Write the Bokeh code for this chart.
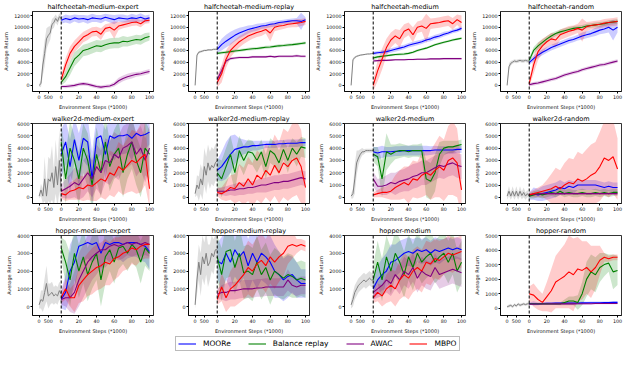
import numpy as np
from bokeh.plotting import figure
from bokeh.layouts import gridplot, column
from bokeh.models import Span, FixedTicker, CustomJSTickFormatter, Legend, LegendItem, Title
from bokeh.embed import file_html
from bokeh.resources import INLINE

# ---------------- data ----------------
online_steps = [0, 5, 10, 15, 20, 25, 30, 35, 40, 45, 50, 55, 60, 65, 70, 75, 80, 85, 90, 95, 100]
offline_steps = [0, 100, 200, 300, 400, 500, 600, 700, 800, 900, 1000, 1100, 1200]
offline_tick_labels = [0, 500]
series_names = ["MOORe", "Balance replay", "AWAC", "MBPO"]

# halfcheetah-medium-expert
hcme_off = [0, 300, 3500, 5500, 8000, 8600, 9000, 10500, 10800, 11500, 11000, 11800, 11500]
hcme_off_sd = [200, 600, 1800, 2200, 1800, 1500, 1200, 900, 900, 700, 700, 600, 500]
hcme_moore = [11200, 11500, 11300, 11600, 11400, 11500, 11300, 11600, 11500, 11400, 11700, 11500, 11300, 11600, 11500, 11400, 11600, 11500, 11700, 11400, 11600]
hcme_moore_sd = [600, 700, 700, 600, 700, 600, 700, 700, 600, 700, 600, 700, 800, 600, 700, 600, 700, 600, 700, 600, 600]
hcme_bal = [500, 1500, 3000, 4500, 5200, 6000, 6200, 6500, 6800, 6700, 7000, 7200, 7300, 7300, 7600, 7500, 7700, 7900, 7800, 8200, 8400]
hcme_bal_sd = [500, 900, 1200, 1200, 1100, 1000, 1000, 1000, 1000, 1000, 900, 900, 900, 900, 900, 800, 800, 800, 800, 800, 700]
hcme_awac = [-200, -200, -100, 0, 200, 300, 200, 0, -200, -300, -200, -100, 200, 800, 1200, 1500, 1700, 1900, 2000, 2200, 2400]
hcme_awac_sd = [200, 300, 300, 300, 300, 300, 300, 300, 300, 300, 300, 300, 400, 500, 500, 500, 500, 400, 400, 400, 400]
hcme_mbpo = [1000, 3500, 5500, 6700, 7500, 8300, 8700, 9200, 9300, 8800, 9800, 10000, 9500, 10200, 10400, 10600, 10800, 10900, 10600, 11100, 11200]
hcme_mbpo_sd = [800, 1200, 1200, 1000, 1000, 900, 900, 800, 800, 1000, 700, 700, 1500, 700, 600, 600, 600, 600, 600, 500, 500]

# halfcheetah-medium-replay
hcmr_off = [0, 5200, 5700, 5800, 5900, 6000, 6000, 6100, 6100, 6100, 6200, 6200, 6200]
hcmr_off_sd = [100, 300, 200, 200, 200, 150, 150, 150, 150, 150, 150, 150, 150]
hcmr_moore = [6200, 7000, 7600, 8100, 8600, 9000, 9300, 9600, 9800, 10000, 10200, 10300, 10500, 10600, 10800, 10900, 11000, 11100, 11100, 11000, 11300]
hcmr_moore_sd = [600, 1000, 1100, 1100, 1000, 900, 800, 700, 600, 600, 500, 500, 500, 500, 400, 400, 400, 400, 500, 1500, 400]
hcmr_bal = [5500, 5600, 5700, 5800, 5900, 6000, 6100, 6200, 6300, 6350, 6450, 6550, 6600, 6700, 6800, 6850, 6950, 7000, 7100, 7200, 7300]
hcmr_bal_sd = [200, 250, 250, 250, 250, 250, 250, 250, 250, 250, 250, 250, 250, 250, 250, 250, 250, 250, 250, 250, 250]
hcmr_awac = [1000, 2500, 4200, 4600, 4700, 4800, 4800, 4800, 4900, 4900, 4900, 4900, 5000, 4900, 5000, 5000, 5000, 5000, 5100, 5000, 5000]
hcmr_awac_sd = [800, 800, 400, 250, 200, 200, 200, 200, 200, 200, 200, 200, 200, 200, 200, 200, 200, 200, 200, 200, 200]
hcmr_mbpo = [500, 2000, 4500, 6000, 6800, 7500, 8000, 8500, 8800, 9100, 9300, 9600, 9000, 10000, 10200, 10300, 10500, 10600, 10700, 10800, 11000]
hcmr_mbpo_sd = [800, 1500, 1500, 1200, 1000, 1000, 900, 900, 800, 800, 800, 700, 1500, 700, 700, 600, 600, 600, 700, 600, 600]

# halfcheetah-medium
hcm_off = [0, 4400, 4800, 5000, 5100, 5200, 5250, 5300, 5350, 5400, 5400, 5450, 5500]
hcm_off_sd = [100, 300, 200, 150, 150, 100, 100, 100, 100, 100, 100, 100, 100]
hcm_moore = [5500, 5600, 5700, 5800, 6000, 6200, 6400, 6600, 6900, 7100, 7300, 7500, 7800, 8000, 8300, 8500, 8800, 9000, 9300, 9500, 9800]
hcm_moore_sd = [300, 300, 350, 350, 400, 400, 400, 400, 400, 400, 400, 400, 400, 400, 400, 400, 400, 350, 350, 350, 350]
hcm_bal = [4700, 4900, 5000, 5100, 5200, 5300, 5350, 5400, 5500, 5700, 6000, 6200, 6400, 6700, 7000, 7200, 7400, 7600, 7800, 7950, 8100]
hcm_bal_sd = [400, 250, 200, 200, 200, 200, 200, 200, 200, 200, 200, 200, 200, 200, 200, 200, 200, 200, 200, 200, 200]
hcm_awac = [4200, 4250, 4300, 4300, 4350, 4400, 4400, 4400, 4450, 4450, 4500, 4500, 4500, 4550, 4550, 4550, 4600, 4600, 4600, 4600, 4600]
hcm_awac_sd = [300, 150, 150, 150, 150, 150, 150, 150, 150, 150, 150, 150, 150, 150, 150, 150, 150, 150, 150, 150, 150]
hcm_mbpo = [0, 2500, 4500, 6500, 7800, 8500, 8000, 9300, 9700, 8700, 10000, 10200, 9800, 10600, 10700, 10800, 11000, 11100, 10600, 11300, 10800]
hcm_mbpo_sd = [1000, 1800, 1800, 1500, 1300, 1200, 1500, 1200, 1100, 1300, 1000, 1000, 2500, 900, 900, 900, 900, 900, 1000, 900, 1200]

# halfcheetah-random
hcr_off = [0, 3200, 3800, 4000, 4200, 4100, 4200, 4300, 4200, 4200, 4300, 4200, 4200]
hcr_off_sd = [100, 600, 400, 300, 300, 300, 300, 300, 300, 300, 300, 300, 300]
hcr_moore = [3900, 4600, 5200, 5700, 6100, 6500, 6800, 7100, 7400, 7700, 7900, 8200, 8500, 8700, 8900, 9200, 9500, 9700, 10000, 9500, 10000]
hcr_moore_sd = [400, 500, 500, 500, 500, 500, 500, 500, 500, 500, 500, 500, 600, 600, 600, 700, 700, 800, 900, 1800, 900]
hcr_bal = [4300, 6000, 6800, 7400, 8000, 8500, 8900, 9200, 9400, 9600, 9800, 9900, 10000, 10200, 10300, 10400, 10500, 10600, 10800, 10900, 11000]
hcr_bal_sd = [400, 600, 600, 500, 500, 500, 400, 400, 400, 400, 400, 400, 400, 400, 400, 400, 400, 400, 400, 400, 400]
hcr_awac = [100, 300, 400, 600, 800, 1000, 1200, 1500, 1800, 2000, 2200, 2400, 2700, 2900, 3100, 3300, 3500, 3600, 3800, 4000, 4200]
hcr_awac_sd = [300, 300, 300, 300, 300, 300, 300, 300, 300, 300, 300, 300, 300, 300, 300, 300, 300, 300, 300, 300, 300]
hcr_mbpo = [300, 3500, 5800, 6800, 7500, 8000, 7800, 8700, 9000, 9300, 9500, 9800, 9500, 10100, 10300, 10400, 10500, 10700, 10800, 10900, 11000]
hcr_mbpo_sd = [500, 1500, 1500, 1200, 1000, 1000, 1200, 900, 900, 900, 800, 800, 2000, 800, 700, 700, 700, 700, 700, 700, 700]

# walker2d-medium-expert
wme_off = [100, 600, 100, 1500, 100, 1500, 1300, 2000, 800, 2500, 1000, 3000, 500]
wme_off_sd = [200, 500, 600, 1800, 1000, 1800, 1800, 2200, 1500, 2200, 1800, 2500, 1800]
wme_moore = [3500, 4500, 2500, 4700, 3000, 4800, 4500, 1500, 4800, 5000, 3500, 5000, 4800, 5000, 5000, 5100, 4800, 5200, 5000, 5100, 5300]
wme_moore_sd = [2000, 1800, 2200, 1800, 2200, 1800, 2000, 2200, 1800, 1500, 2000, 1500, 1800, 1500, 1500, 1500, 1800, 1200, 1500, 1200, 1000]
wme_bal = [4500, 1500, 4000, 3000, 1500, 4000, 3000, 1000, 3500, 2000, 4500, 2500, 3500, 4000, 2000, 3500, 4500, 3000, 2000, 4000, 3500]
wme_bal_sd = [1500, 2000, 2200, 2000, 2200, 2000, 2200, 2000, 2200, 2000, 2200, 2000, 2000, 2200, 2000, 2000, 2200, 2000, 2000, 2200, 2000]
wme_awac = [500, 700, 900, 1200, 1000, 1500, 2000, 1500, 2500, 2000, 3000, 2800, 3500, 3200, 4000, 4200, 4500, 3500, 4000, 3000, 4000]
wme_awac_sd = [500, 800, 1000, 1200, 1200, 1500, 1500, 1500, 1800, 1800, 1800, 1800, 1800, 1800, 1800, 1800, 1800, 1800, 1800, 1800, 1800]
wme_mbpo = [300, 200, 500, 600, 800, 700, 1000, 900, 1200, 1500, 1300, 2000, 1800, 2500, 2200, 2600, 3000, 2800, 3200, 3500, 700]
wme_mbpo_sd = [400, 500, 700, 800, 1000, 1000, 1200, 1200, 1500, 1500, 1500, 1800, 1800, 2000, 2000, 2200, 2500, 2500, 2800, 2500, 1500]

# walker2d-medium-replay
wmr_off = [300, 1000, 700, 1500, 1000, 2500, 1800, 2800, 2200, 2600, 2400, 2800, 3000]
wmr_off_sd = [300, 800, 1000, 1200, 1200, 1500, 1500, 1500, 1500, 1500, 1500, 1500, 1500]
wmr_moore = [2200, 2500, 3000, 3500, 3900, 4000, 4100, 4100, 4200, 4200, 4250, 4300, 4300, 4300, 4350, 4350, 4400, 4400, 4400, 4450, 4450]
wmr_moore_sd = [800, 1200, 1500, 1500, 1200, 800, 600, 500, 400, 400, 350, 300, 300, 300, 300, 300, 300, 300, 300, 300, 300]
wmr_bal = [2000, 1500, 2500, 3500, 2000, 3800, 3000, 3700, 3600, 3000, 3700, 2500, 3800, 3500, 2800, 3900, 3000, 4000, 3500, 4100, 4000]
wmr_bal_sd = [1200, 1500, 1500, 1500, 1500, 1200, 1200, 1000, 1000, 1000, 1000, 1000, 1000, 1000, 1000, 800, 1000, 800, 1000, 800, 800]
wmr_awac = [500, 500, 500, 600, 600, 700, 700, 800, 800, 900, 1000, 1000, 1100, 1200, 1200, 1300, 1300, 1400, 1500, 1600, 1500]
wmr_awac_sd = [300, 300, 400, 400, 500, 500, 500, 500, 500, 500, 600, 600, 600, 600, 600, 600, 600, 600, 600, 600, 600]
wmr_mbpo = [400, 300, 500, 800, 700, 1200, 900, 1500, 1000, 1800, 1500, 2200, 1800, 2600, 2000, 2800, 2500, 3000, 3200, 2500, 800]
wmr_mbpo_sd = [300, 500, 800, 1000, 1200, 1500, 1500, 1800, 1800, 2000, 2000, 2200, 2200, 2500, 2500, 2800, 2800, 3000, 3000, 3000, 2000]

# walker2d-medium
wm_off = [100, 300, 1500, 2800, 3200, 3500, 3700, 3700, 3800, 3800, 3800, 3800, 3800]
wm_off_sd = [200, 400, 1200, 1000, 600, 400, 300, 200, 150, 150, 150, 150, 150]
wm_moore = [3700, 3600, 3700, 3700, 3700, 3750, 3750, 3800, 3800, 3800, 3800, 3800, 3800, 3800, 3850, 3850, 3850, 3850, 3850, 3900, 3900]
wm_moore_sd = [400, 500, 500, 400, 400, 400, 400, 400, 400, 400, 400, 400, 400, 350, 350, 300, 300, 300, 300, 300, 300]
wm_bal = [3500, 3300, 1500, 3700, 3500, 3700, 3800, 3800, 3700, 3800, 3800, 3800, 1500, 1300, 2000, 3500, 4000, 4100, 4100, 4200, 4300]
wm_bal_sd = [600, 800, 1500, 1500, 800, 600, 600, 500, 500, 500, 500, 600, 1500, 1500, 1500, 1000, 600, 500, 500, 400, 400]
wm_awac = [1500, 900, 900, 1000, 1200, 1100, 1300, 1400, 1500, 1700, 1800, 2000, 2000, 2200, 2400, 2600, 2500, 2700, 2800, 2600, 2500]
wm_awac_sd = [600, 600, 700, 800, 800, 900, 900, 900, 1000, 1000, 1000, 1000, 1000, 1000, 1000, 1000, 1000, 1000, 1000, 1000, 1000]
wm_mbpo = [200, 300, 400, 400, 500, 800, 1000, 1200, 1000, 1500, 1400, 1800, 2000, 1800, 2200, 2500, 2200, 3000, 3200, 2800, 600]
wm_mbpo_sd = [200, 300, 400, 500, 700, 1000, 1200, 1300, 1500, 1500, 1500, 1800, 1800, 2000, 2200, 2500, 2500, 2800, 3000, 2800, 2000]

# walker2d-random
wr_off = [100, 500, 100, 500, 100, 500, 100, 500, 150, 400, 100, 300, 100]
wr_off_sd = [300, 400, 300, 400, 300, 400, 300, 400, 300, 400, 300, 300, 200]
wr_moore = [100, 300, 200, 300, 400, 500, 600, 800, 700, 900, 800, 1000, 1000, 1000, 1000, 1000, 900, 800, 900, 800, 800]
wr_moore_sd = [300, 500, 500, 600, 600, 600, 600, 600, 500, 500, 500, 400, 400, 400, 400, 400, 400, 400, 400, 400, 400]
wr_bal = [100, 200, 300, 200, 300, 400, 300, 500, 300, 400, 300, 300, 400, 300, 300, 400, 300, 400, 300, 400, 400]
wr_bal_sd = [200, 300, 300, 300, 300, 300, 300, 300, 300, 300, 300, 300, 300, 300, 300, 300, 300, 300, 300, 300, 300]
wr_awac = [200, 250, 250, 300, 300, 300, 300, 300, 300, 300, 300, 300, 300, 300, 300, 300, 300, 300, 300, 300, 300]
wr_awac_sd = [100, 100, 100, 100, 100, 100, 100, 100, 100, 100, 100, 100, 100, 100, 100, 100, 100, 100, 100, 100, 100]
wr_mbpo = [200, 300, 400, 500, 600, 700, 900, 700, 1000, 1200, 1100, 1500, 1300, 1500, 1800, 2000, 2500, 3200, 3000, 3300, 2300]
wr_mbpo_sd = [200, 300, 400, 500, 800, 1200, 1500, 1500, 1800, 2000, 2000, 2200, 2200, 2400, 2500, 2500, 2800, 3000, 3000, 3000, 2500]

# hopper-medium-expert
hme_off = [100, 400, 300, 800, 1300, 600, 700, 800, 600, 700, 600, 900, 700]
hme_off_sd = [200, 500, 600, 800, 1000, 700, 600, 600, 500, 500, 500, 500, 500]
hme_moore = [400, 800, 2000, 2500, 3400, 3500, 3600, 3500, 3600, 3000, 3600, 3500, 3600, 3600, 3500, 3600, 3600, 3600, 3500, 3400, 3100]
hme_moore_sd = [500, 1000, 1500, 1500, 1200, 1000, 900, 1000, 900, 1200, 900, 1000, 900, 900, 1000, 900, 800, 800, 900, 900, 1000]
hme_bal = [3300, 2500, 1500, 3000, 2000, 2800, 1800, 2500, 3000, 1500, 2800, 3200, 2500, 3300, 3400, 3000, 3500, 3200, 2500, 3300, 3000]
hme_bal_sd = [600, 1200, 1500, 1500, 1500, 1500, 1500, 1500, 1500, 1500, 1500, 1200, 1200, 1200, 1000, 1000, 1000, 1000, 1200, 1000, 1000]
hme_awac = [400, 500, 500, 800, 1500, 2000, 2500, 2800, 3000, 3200, 3200, 3400, 3500, 3400, 3500, 3600, 3500, 3600, 3500, 3600, 3500]
hme_awac_sd = [300, 500, 800, 1200, 1500, 1500, 1500, 1300, 1200, 1000, 1000, 900, 800, 800, 800, 700, 700, 700, 700, 700, 700]
hme_mbpo = [500, 1000, 500, 500, 1200, 1500, 1800, 2000, 2200, 2300, 2500, 2400, 2700, 2800, 3000, 3100, 3300, 3200, 3400, 3500, 3500]
hme_mbpo_sd = [300, 600, 500, 800, 1000, 1200, 1200, 1300, 1300, 1300, 1300, 1200, 1200, 1100, 1000, 1000, 900, 900, 800, 800, 800]

# hopper-medium-replay
hmr_off = [100, 1500, 2500, 1800, 2800, 2400, 3000, 2300, 2500, 3000, 2800, 3200, 3200]
hmr_off_sd = [200, 800, 1000, 1200, 1200, 1200, 1200, 1200, 1000, 1000, 1000, 800, 800]
hmr_moore = [2600, 2400, 3000, 2500, 3200, 2800, 3100, 2300, 3000, 2500, 3000, 2800, 2500, 2000, 1800, 1500, 1700, 1800, 1500, 1300, 1300]
hmr_moore_sd = [1000, 1500, 1500, 1500, 1500, 1500, 1500, 1500, 1500, 1500, 1500, 1500, 1500, 1500, 1300, 1200, 1200, 1000, 1000, 800, 800]
hmr_bal = [2800, 1800, 3100, 3200, 2200, 3000, 1900, 2000, 1800, 2500, 1800, 2200, 1500, 2000, 1800, 1600, 1800, 1700, 1500, 1600, 1500]
hmr_bal_sd = [1200, 1500, 1500, 1500, 1500, 1500, 1500, 1500, 1500, 1500, 1400, 1400, 1400, 1300, 1300, 1200, 1200, 1200, 1000, 1000, 1000]
hmr_awac = [700, 800, 800, 900, 900, 950, 1000, 1000, 1000, 1050, 1050, 1100, 1100, 1100, 1100, 1100, 1500, 1200, 1100, 1200, 1200]
hmr_awac_sd = [300, 400, 500, 500, 500, 500, 500, 500, 500, 500, 500, 500, 500, 500, 500, 500, 600, 500, 500, 500, 500]
hmr_mbpo = [400, 1100, 500, 1000, 1200, 1500, 1800, 2200, 2000, 2400, 2600, 2300, 2800, 2500, 2800, 3000, 3400, 3500, 3400, 3500, 3400]
hmr_mbpo_sd = [300, 800, 800, 1000, 1200, 1300, 1400, 1500, 1500, 1500, 1500, 1500, 1500, 1500, 1400, 1300, 1000, 800, 400, 300, 300]

# hopper-medium
hm_off = [100, 400, 800, 1000, 1200, 1300, 1400, 1500, 1400, 1500, 1600, 1500, 1500]
hm_off_sd = [200, 400, 400, 400, 400, 400, 400, 400, 400, 400, 400, 400, 400]
hm_moore = [1000, 1500, 1800, 2000, 2500, 2600, 2800, 3000, 3100, 3000, 3200, 3100, 3200, 3000, 3200, 3100, 3200, 3300, 3200, 3300, 3200]
hm_moore_sd = [600, 800, 900, 1000, 1000, 900, 900, 800, 800, 800, 700, 700, 700, 700, 700, 700, 600, 600, 600, 600, 600]
hm_bal = [1500, 2500, 1500, 2800, 2000, 3000, 2500, 1800, 2800, 2200, 3000, 2500, 2800, 3000, 2500, 2800, 3000, 2500, 3000, 2000, 2500]
hm_bal_sd = [800, 1200, 1200, 1200, 1300, 1300, 1300, 1300, 1300, 1300, 1200, 1200, 1200, 1200, 1200, 1200, 1200, 1200, 1200, 1200, 1200]
hm_awac = [800, 1000, 1200, 1500, 1300, 1800, 1500, 2000, 1800, 2200, 1600, 2000, 1800, 1700, 2200, 1800, 1900, 2000, 2100, 2000, 1900]
hm_awac_sd = [400, 500, 600, 700, 700, 800, 800, 800, 800, 800, 800, 800, 800, 800, 800, 800, 800, 800, 800, 800, 800]
hm_mbpo = [500, 800, 600, 1000, 1200, 1000, 1500, 1800, 1600, 2000, 2200, 2000, 2500, 2400, 2700, 2600, 2800, 3000, 2900, 3000, 3100]
hm_mbpo_sd = [300, 500, 600, 800, 900, 1000, 1100, 1200, 1200, 1200, 1200, 1200, 1200, 1200, 1100, 1100, 1000, 1000, 1000, 900, 900]

# hopper-random
hr_off = [100, 150, 200, 100, 250, 150, 300, 200, 250, 300, 250, 300, 300]
hr_off_sd = [80, 100, 100, 100, 100, 100, 100, 100, 100, 100, 100, 100, 100]
hr_moore = [320, 330, 300, 330, 340, 340, 350, 350, 350, 360, 360, 360, 370, 370, 380, 380, 380, 390, 390, 400, 400]
hr_moore_sd = [80, 150, 100, 80, 80, 80, 80, 80, 80, 80, 80, 80, 100, 80, 80, 80, 80, 80, 80, 80, 80]
hr_bal = [300, 300, 300, 300, 300, 300, 300, 300, 400, 500, 500, 400, 1000, 2000, 2500, 2300, 2800, 3000, 3100, 2500, 2600]
hr_bal_sd = [50, 50, 50, 50, 50, 50, 80, 100, 200, 300, 300, 500, 800, 1200, 1200, 1200, 1000, 800, 600, 1200, 1000]
hr_awac = [280, 280, 290, 290, 290, 300, 300, 300, 300, 300, 300, 310, 310, 310, 310, 320, 320, 320, 320, 320, 320]
hr_awac_sd = [50, 50, 50, 50, 50, 50, 50, 50, 50, 50, 50, 50, 50, 50, 50, 50, 50, 50, 50, 50, 50]
hr_mbpo = [1000, 900, 600, 400, 800, 1200, 1800, 2000, 2200, 2500, 2300, 2700, 2600, 2800, 2500, 2800, 3300, 3500, 3400, 3500, 3500]
hr_mbpo_sd = [500, 800, 700, 600, 1000, 1500, 1800, 2000, 2200, 2500, 2500, 2200, 2000, 1800, 1800, 1500, 1000, 300, 200, 200, 200]

# ---------------- panels ----------------
panels = [
    ("halfcheetah-medium-expert", "hcme", (-1050, 12700), [0, 2000, 4000, 6000, 8000, 10000, 12000]),
    ("halfcheetah-medium-replay", "hcmr", (-1050, 12700), [0, 2000, 4000, 6000, 8000, 10000, 12000]),
    ("halfcheetah-medium", "hcm", (-1050, 12700), [0, 2000, 4000, 6000, 8000, 10000, 12000]),
    ("halfcheetah-random", "hcr", (-1050, 12700), [0, 2000, 4000, 6000, 8000, 10000, 12000]),
    ("walker2d-medium-expert", "wme", (-500, 6000), [0, 1000, 2000, 3000, 4000, 5000, 6000]),
    ("walker2d-medium-replay", "wmr", (-500, 6000), [0, 1000, 2000, 3000, 4000, 5000, 6000]),
    ("walker2d-medium", "wm", (-500, 6000), [0, 1000, 2000, 3000, 4000, 5000, 6000]),
    ("walker2d-random", "wr", (-500, 6000), [0, 1000, 2000, 3000, 4000, 5000, 6000]),
    ("hopper-medium-expert", "hme", (-500, 4000), [0, 1000, 2000, 3000, 4000]),
    ("hopper-medium-replay", "hmr", (-500, 4000), [0, 1000, 2000, 3000, 4000]),
    ("hopper-medium", "hm", (-500, 4000), [0, 1000, 2000, 3000, 4000]),
    ("hopper-random", "hr", (-500, 5000), [0, 1000, 2000, 3000, 4000, 5000]),
]

G = globals()
KEYS = ["moore", "bal", "awac", "mbpo"]
COLORS = ["#0000ff", "#008000", "#800080", "#ff0000"]
GRAY = "#808080"
FONT = "DejaVu Sans"
OFF_TOTAL = 1200.0


def off_x(s):
    return -25.0 + 25.0 * np.asarray(s, dtype=float) / OFF_TOTAL


def make_panel(title, key, yr, yticks, h):
    p = figure(width=156, height=h, x_range=(-32.5, 104.5), y_range=yr,
               output_backend="svg", toolbar_location=None,
               min_border_left=29, min_border_right=3, min_border_top=3, min_border_bottom=1)
    p.title = Title(text=title, text_font=FONT, text_font_size="6.5px",
                    text_font_style="normal", align="center", standoff=1,
                    text_color="#000000")
    p.grid.visible = False
    p.outline_line_color = "black"
    p.outline_line_width = 0.8
    p.background_fill_color = "white"

    off_ticks = [float(v) for v in off_x(offline_tick_labels)]
    p.xaxis.ticker = FixedTicker(ticks=off_ticks + [0, 20, 40, 60, 80, 100])
    p.xaxis.formatter = CustomJSTickFormatter(
        code="if (tick < -20) { return '0'; } else if (tick < -1) { return '500'; } else { return tick.toFixed(0); }")
    p.yaxis.ticker = FixedTicker(ticks=yticks)
    p.xaxis.axis_label = "Environment Steps (*1000)"
    p.yaxis.axis_label = "Average Return"
    for ax in (p.xaxis[0], p.yaxis[0]):
        ax.major_label_text_font = FONT
        ax.axis_label_text_font = FONT
        ax.major_label_text_font_size = "4.8px"
        ax.axis_label_text_font_size = "5px"
        ax.axis_label_text_font_style = "normal"
        ax.major_label_text_color = "#111111"
        ax.axis_label_text_color = "#111111"
        ax.major_tick_in = 0
        ax.major_tick_out = 2
        ax.minor_tick_line_color = None
        ax.major_label_standoff = 1
        ax.axis_label_standoff = 2
        ax.axis_line_color = "black"
        ax.axis_line_width = 0.8

    # offline phase
    ox = off_x(offline_steps)
    om = np.array(G[key + "_off"], dtype=float)
    osd = np.array(G[key + "_off_sd"], dtype=float)
    p.varea(x=ox, y1=om - osd, y2=om + osd, fill_color=GRAY, fill_alpha=0.25)
    p.line(ox, om, line_color=GRAY, line_width=1)

    # online phase
    x = np.array(online_steps, dtype=float)
    for k, c in zip(KEYS, COLORS):
        m = np.array(G[key + "_" + k], dtype=float)
        sd = np.array(G[key + "_" + k + "_sd"], dtype=float)
        p.varea(x=x, y1=m - sd, y2=m + sd, fill_color=c, fill_alpha=0.2)
    for k, c in zip(KEYS, COLORS):
        m = np.array(G[key + "_" + k], dtype=float)
        p.line(x, m, line_color=c, line_width=1.1)

    p.add_layout(Span(location=0, dimension="height", line_color="black",
                      line_dash="3 2", line_width=1))
    return p


heights = [112, 112, 112]
figs = []
for i, (title, key, yr, yt) in enumerate(panels):
    figs.append(make_panel(title, key, yr, yt, heights[i // 4]))

grid = gridplot(figs, ncols=4, toolbar_location=None)

leg = figure(width=624, height=15, output_backend="svg", toolbar_location=None,
             x_axis_type=None, y_axis_type=None, x_range=(0, 1), y_range=(0, 1),
             min_border_left=0, min_border_right=0, min_border_top=0, min_border_bottom=0)
leg.outline_line_color = None
leg.grid.visible = False
items = []
for name, c in zip(series_names, COLORS):
    r = leg.line(x=[-5, -4], y=[-5, -5], line_color=c, line_alpha=0.6, line_width=1.8)
    items.append(LegendItem(label=name, renderers=[r]))
legend = Legend(items=items, orientation="horizontal", location=(175, 0),
                label_text_font=FONT, label_text_font_size="7.5px", label_text_color="black",
                glyph_width=18, glyph_height=9, label_height=9, label_standoff=7,
                spacing=17, padding=2, margin=0,
                border_line_color="#bbbbbb", border_line_width=1, border_line_alpha=1,
                background_fill_color="white", background_fill_alpha=1)
leg.add_layout(legend, "center")

layout = column(grid, leg)
open("out.html", "w").write(file_html(layout, INLINE))
